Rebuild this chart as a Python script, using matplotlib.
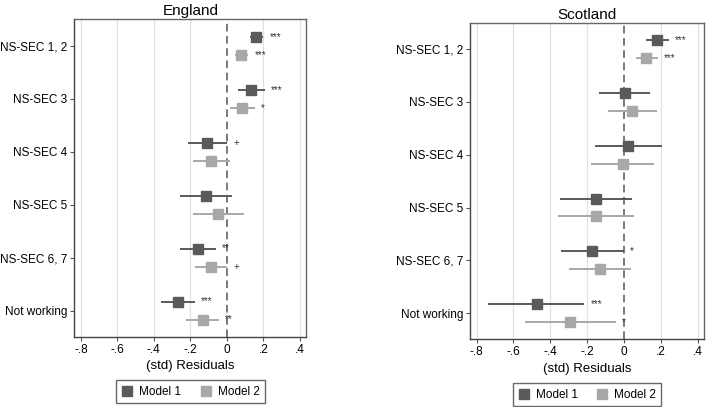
import matplotlib.pyplot as plt
import numpy as np

categories = ["NS-SEC 1, 2", "NS-SEC 3", "NS-SEC 4", "NS-SEC 5", "NS-SEC 6, 7", "Not working"]

# England
eng_m1 = [0.158, 0.133, -0.109, -0.115, -0.157, -0.270]
eng_m1_lo = [0.127, 0.060, -0.215, -0.258, -0.255, -0.360]
eng_m1_hi = [0.200, 0.209, 0.000, 0.027, -0.060, -0.177]
eng_m1_sig = ["***", "***", "+", "", "**", "***"]
eng_m2 = [0.076, 0.085, -0.086, -0.047, -0.087, -0.133]
eng_m2_lo = [0.045, 0.018, -0.185, -0.185, -0.173, -0.222]
eng_m2_hi = [0.118, 0.154, 0.018, 0.094, 0.000, -0.045]
eng_m2_sig = ["***", "*", "", "", "+", "**"]

# Scotland
sco_m1 = [0.180, 0.004, 0.024, -0.151, -0.171, -0.474]
sco_m1_lo = [0.121, -0.135, -0.157, -0.346, -0.342, -0.735]
sco_m1_hi = [0.243, 0.144, 0.207, 0.045, 0.000, -0.216]
sco_m1_sig = ["***", "", "", "", "*", "***"]
sco_m2 = [0.121, 0.045, -0.007, -0.151, -0.130, -0.292]
sco_m2_lo = [0.063, -0.086, -0.180, -0.357, -0.297, -0.537]
sco_m2_hi = [0.184, 0.177, 0.162, 0.054, 0.036, -0.045]
sco_m2_sig = ["***", "", "", "", "", "*"]

xticks = [-0.8, -0.6, -0.4, -0.2, 0, 0.2, 0.4]
xticklabels = ["-.8", "-.6", "-.4", "-.2", "0", ".2", ".4"]

c1 = "#5a5a5a"
c2 = "#a8a8a8"

plt.rcParams['font.family'] = ['Liberation Sans', 'DejaVu Sans']

fig = plt.figure(figsize=(7.09, 4.07), dpi=100)
ax_e = fig.add_axes([0.105, 0.172, 0.327, 0.781])
ax_s = fig.add_axes([0.663, 0.166, 0.330, 0.778])


def panel(ax, title, models, leg_y):
    pos = np.arange(1, len(categories) + 1)
    for (vals, lo, hi, sig, col, off, lab) in models:
        y = pos + off
        ax.hlines(y, lo, hi, color=col, lw=1.4, zorder=3)
        ax.plot(vals, y, 's', color=col, ms=6.5, zorder=4, label=lab)
        for yi, h, s in zip(y, hi, sig):
            if s:
                ax.annotate(s, (h, yi), xytext=(4.5, 0), textcoords='offset points',
                            fontsize=7, ha='left', va='center', color='#333333')
    ax.axvline(0, color='#555555', ls=(0, (5, 3)), lw=1.1, zorder=2)
    for t in xticks:
        if t != 0:
            ax.axvline(t, color='#e2e2e2', lw=0.9, zorder=1)
    ax.set_xlim(-0.835, 0.435)
    ax.set_ylim(6.5, 0.5)
    ax.set_xticks(xticks)
    ax.set_xticklabels(xticklabels)
    ax.set_yticks(pos)
    ax.set_yticklabels(categories)
    ax.tick_params(axis='both', labelsize=8.5, color='#555555', length=3, pad=2)
    for sp in ax.spines.values():
        sp.set_color('#666666')
        sp.set_linewidth(1.0)
    ax.spines['left'].set_color('#444444')
    ax.spines['bottom'].set_color('#444444')
    ax.set_title(title, fontsize=11, pad=3)
    ax.set_xlabel("(std) Residuals", fontsize=9.5, labelpad=3)
    leg = ax.legend(loc='upper center', bbox_to_anchor=(0.5, leg_y), ncol=2,
                    fontsize=8.5, frameon=True, fancybox=False, handlelength=1,
                    handletextpad=0.5, columnspacing=1.6, borderpad=0.45,
                    markerscale=1.1)
    leg.get_frame().set_edgecolor('#444444')
    leg.get_frame().set_linewidth(1.0)


panel(ax_e, "England",
      [(eng_m1, eng_m1_lo, eng_m1_hi, eng_m1_sig, c1, -0.17, "Model 1"),
       (eng_m2, eng_m2_lo, eng_m2_hi, eng_m2_sig, c2, 0.17, "Model 2")], -0.118)
panel(ax_s, "Scotland",
      [(sco_m1, sco_m1_lo, sco_m1_hi, sco_m1_sig, c1, -0.17, "Model 1"),
       (sco_m2, sco_m2_lo, sco_m2_hi, sco_m2_sig, c2, 0.17, "Model 2")], -0.12)

fig.savefig("out.png", dpi=100)
